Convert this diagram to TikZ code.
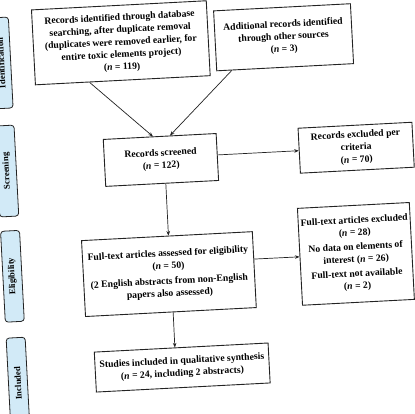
\documentclass[tikz,border=0pt]{standalone}
\usepackage{fontspec}
\setmainfont{Liberation Serif}
\usetikzlibrary{arrows.meta,calc}
\definecolor{stagebg}{RGB}{210,234,247}
\definecolor{edge}{RGB}{35,35,35}
\tikzset{
  box/.style={draw=edge, line width=0.9pt, fill=white, align=center, inner sep=0pt,
    font=\bfseries\fontsize{9.7}{12.4}\selectfont, transform shape},
  stage/.style={draw=edge, line width=0.8pt, fill=stagebg, rounded corners=3pt,
    minimum width=91pt, minimum height=19pt, inner sep=0pt, rotate=90,
    font=\bfseries\fontsize{8.8}{10}\selectfont, transform shape},
  conn/.style={draw=edge, line width=0.7pt, -{Stealth[length=4.5pt,width=3.6pt]}},
}
\begin{document}
\begin{tikzpicture}[x=1pt,y=-1pt]
\useasboundingbox (0,0) rectangle (415,413);
\clip (0,0) rectangle (415,413);
\fill[white] (0,0) rectangle (415,413);
\begin{scope}[rotate around={3:(207,206)}]
% stage labels
\node[stage] (s1) at (9,52.4) {Identification};
\node[stage] (s2) at (9,160.6) {Screening};
\node[stage] (s3) at (9,266) {Eligibility};
\node[stage] (s4) at (9,373) {Included};
% boxes
\node[box, minimum width=175pt, minimum height=75pt] (b1) at (129.5,38.5)
  {Records identified through database\\searching, after duplicate removal\\(duplicates were removed earlier, for\\entire toxic elements project)\\(\textit{n} = 119)};
\node[box, minimum width=137pt, minimum height=60pt] (b2) at (292.3,41.5)
  {Additional records identified\\through other sources\\(\textit{n} = 3)};
\node[box, minimum width=113pt, minimum height=47pt] (b3) at (163.4,157.6)
  {Records screened\\(\textit{n} = 122)};
\node[box, minimum width=114pt, minimum height=45pt] (b4) at (359,155.6)
  {Records excluded per\\criteria\\(\textit{n} = 70)};
\node[box, minimum width=171pt, minimum height=76pt] (b5) at (165.4,272)
  {Full-text articles assessed for eligibility\\(\textit{n} = 50)\\[3pt](2 English abstracts from non-English\\papers also assessed)};
\node[box, minimum width=112pt, minimum height=97pt] (b6) at (353.2,261.6)
  {Full-text articles excluded\\(\textit{n} = 28)\\[2pt]No data on elements of\\interest (\textit{n} = 26)\\[2pt]Full-text not available\\(\textit{n} = 2)};
\node[box, minimum width=174pt, minimum height=40pt] (b7) at (173.8,366)
  {Studies included in qualitative synthesis\\(\textit{n} = 24, including 2 abstracts)};
% connectors
\draw[conn] ($(b1.south west)!0.311!(b1.south east)$) -- ($(b3.north west)!0.44!(b3.north east)$);
\draw[conn] ($(b2.south west)!0.112!(b2.south east)$) -- ($(b3.north west)!0.591!(b3.north east)$);
\draw[conn] ($(b3.south west)!0.532!(b3.south east)$) -- ($(b5.north west)!0.509!(b5.north east)$);
\draw[conn] ($(b3.north east)!0.457!(b3.south east)$) -- (b4.west);
\draw[conn] ($(b5.north east)!0.363!(b5.south east)$) -- (b6.west);
\draw[conn] ($(b5.south west)!0.513!(b5.south east)$) -- ($(b7.north west)!0.464!(b7.north east)$);
\end{scope}
\end{tikzpicture}
\end{document}
